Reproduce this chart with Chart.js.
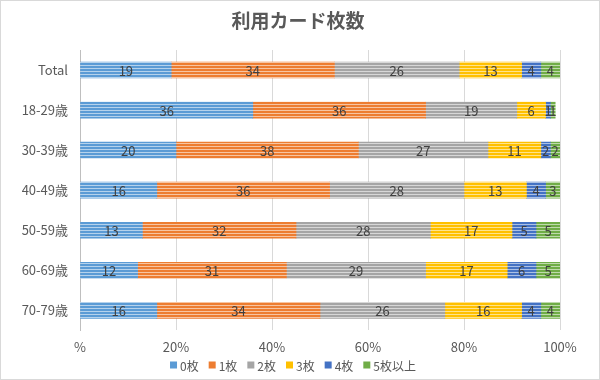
<!DOCTYPE html>
<html><head><meta charset="utf-8">
<script src="https://cdn.jsdelivr.net/npm/chart.js@4"></script>
<style>
html,body{margin:0;padding:0;background:#fff;}
#wrap{width:600px;height:380px;position:relative;}
#c{position:absolute;left:0;top:0;display:block;}
#frame{position:absolute;left:0;top:0;width:600px;height:380px;box-sizing:border-box;border:1px solid #d9d9d9;pointer-events:none;}
</style></head>
<body><div id="wrap"><canvas id="c" width="600" height="380"></canvas><div id="frame"></div></div>
<script>
const categories = ["Total","18-29歳","30-39歳","40-49歳","50-59歳","60-69歳","70-79歳"];
const seriesNames = ["0枚","1枚","2枚","3枚","4枚","5枚以上"];
const s0 = [19,36,20,16,13,12,16];
const s1 = [34,36,38,36,32,31,34];
const s2 = [26,19,27,28,28,29,26];
const s3 = [13,6,11,13,17,17,16];
const s4 = [4,1,2,4,5,6,4];
const s5 = [4,1,2,3,5,5,4];
const tickLabels = ["%","20%","40%","60%","80%","100%"];
const titleText = "利用カード枚数";
const colors = ["#5B9BD5","#ED7D31","#A5A5A5","#FFC000","#4472C4","#70AD47"];

function mix(hex, t){
  const n=parseInt(hex.slice(1),16);
  const r=(n>>16)&255,g=(n>>8)&255,b=n&255;
  const f=v=>Math.round(v+(255-v)*t);
  return `rgb(${f(r)},${f(g)},${f(b)})`;
}
function pattern(hex){
  const cv=document.createElement('canvas');
  cv.width=4; cv.height=3;
  const x=cv.getContext('2d');
  x.fillStyle=hex; x.fillRect(0,0,4,3);
  x.fillStyle=mix(hex,0.55); x.fillRect(0,2,4,1);
  return x.createPattern(cv,'repeat');
}
const ctx=document.getElementById('c').getContext('2d');
const allSeries=[s0,s1,s2,s3,s4,s5];
const datasets=allSeries.map((d,i)=>({
  label:seriesNames[i], data:d,
  backgroundColor:pattern(colors[i]),
  borderWidth:0, barThickness:16
}));
const FONT='"Noto Sans CJK JP","Noto Sans",sans-serif';
const labelPlugin={
  id:'segLabels',
  afterDatasetsDraw(chart){
    const c=chart.ctx;
    c.save();
    c.font='13px '+FONT;
    c.fillStyle='#404040';
    c.textAlign='center'; c.textBaseline='middle';
    chart.data.datasets.forEach((ds,i)=>{
      const meta=chart.getDatasetMeta(i);
      meta.data.forEach((el,j)=>{
        const p=el.getProps(['x','y','base'],true);
        c.fillText(String(ds.data[j]),(p.x+p.base)/2,p.y+1);
      });
    });
    c.restore();
  },
  afterDraw(chart){
    const c=chart.ctx;
    c.save();
    c.font='bold 19px '+FONT;
    c.fillStyle='#595959';
    c.textAlign='center'; c.textBaseline='middle';
    c.fillText(titleText,298,21);
    // legend
    c.font='12px '+FONT;
    c.textAlign='left';
    const gap=10, box=7, tgap=3;
    let total=0;
    const widths=seriesNames.map(n=>c.measureText(n).width);
    widths.forEach(w=>{total+=box+tgap+w;});
    total+=gap*(seriesNames.length-1);
    let x=293-total/2;
    const y=365;
    seriesNames.forEach((n,i)=>{
      c.fillStyle=colors[i];
      c.fillRect(x,y-box/2,box,box);
      c.fillStyle='#595959';
      c.fillText(n,x+box+tgap,y+1);
      x+=box+tgap+widths[i]+gap;
    });
    c.restore();
  }
};
new Chart(ctx,{
  type:'bar',
  data:{labels:categories,datasets},
  options:{
    indexAxis:'y',responsive:false,animation:false,
    layout:{padding:{left:0,right:40,top:50,bottom:16}},
    scales:{
      x:{stacked:true,min:0,max:100,
        ticks:{stepSize:20,color:'#595959',font:{family:FONT,size:13},padding:9,
          callback:(v,i)=>tickLabels[i]},
        grid:{color:'#d9d9d9',drawTicks:false},
        border:{display:false}
      },
      y:{stacked:true,
        ticks:{color:'#595959',font:{family:FONT,size:13},padding:12},
        grid:{display:false,drawTicks:false},
        border:{color:'#bfbfbf'},
        afterFit(s){s.width=80;}
      }
    },
    plugins:{
      title:{display:false},
      legend:{display:false},
      tooltip:{enabled:false}
    }
  },
  plugins:[labelPlugin]
});
</script></body></html>
